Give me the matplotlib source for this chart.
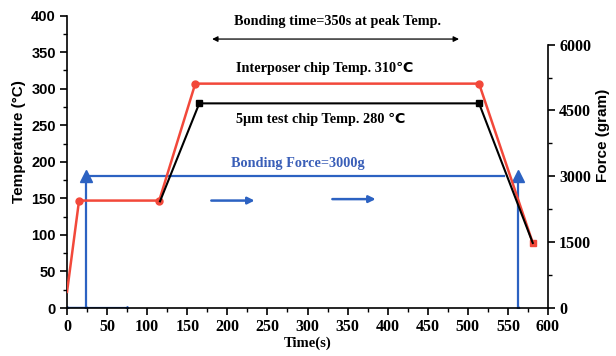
import matplotlib
matplotlib.use("Agg")
import matplotlib.pyplot as plt
from matplotlib.ticker import MultipleLocator

# interposer chip temperature (red)
t_red = [0, 15, 115, 160, 514, 581]
temp_red = [22, 147, 147, 307, 307, 89]
# 5um test chip temperature (black)
t_blk = [116, 165, 514, 581]
temp_blk = [146, 280, 280, 89]
# bonding force (blue, right axis)
t_force = [0, 24, 24, 545]
force = [0, 0, 3000, 3000]
t_release = [562, 562]
force_release = [3000, 0]
t_base = [0, 75]
force_base = [0, 0]

red = '#f2483a'
blue = '#2c62c2'
serif = ['Liberation Serif', 'DejaVu Sans']
sans = ['Liberation Sans', 'DejaVu Sans']

fig = plt.figure(figsize=(6.16, 3.56), dpi=100)
ax = fig.add_axes([0.1088, 0.1348, 0.7808, 0.8212])
ax2 = ax.twinx()

ax.plot(t_red, temp_red, color=red, lw=1.8, zorder=3)
ax.plot(t_red[1:5], temp_red[1:5], 'o', color=red, ms=5, zorder=4)
ax.plot(t_red[-1:], temp_red[-1:], 's', color=red, ms=5, zorder=4)
ax.plot(t_blk, temp_blk, color='black', lw=1.5, zorder=5)
ax.plot(t_blk[1:3], temp_blk[1:3], 's', color='black', ms=5, zorder=6)

ax2.plot(t_force, force, color=blue, lw=1.6, zorder=2)
ax2.plot(t_release, force_release, color=blue, lw=1.6, zorder=2)
ax2.plot([t_force[2], t_release[0]], [force[2], force_release[0]], '^', color=blue, ms=8)
ax2.plot([t_force[0], t_force[1], t_release[1]], [force[0], force[1], force_release[1]],
         '^', color=blue, ms=3)
ax2.plot(t_base, force_base, color=blue, lw=1.6, marker='^', ms=3, markevery=[1])

ax.set_xlim(0, 600)
ax.set_ylim(0, 400)
ax2.set_ylim(0, 6660)
ax.set_zorder(ax2.get_zorder() + 1)
ax.patch.set_visible(False)

for a in (ax, ax2):
    a.spines['top'].set_visible(False)
ax.spines['right'].set_visible(False)
ax2.spines['left'].set_visible(False)
ax2.spines['bottom'].set_visible(False)
ax2.spines['right'].set_bounds(0, 6000)
for s in ('left', 'bottom'):
    ax.spines[s].set_linewidth(1.2)
ax2.spines['right'].set_linewidth(1.2)

ax.xaxis.set_major_locator(MultipleLocator(50))
ax.xaxis.set_minor_locator(MultipleLocator(25))
ax.yaxis.set_major_locator(MultipleLocator(50))
ax.yaxis.set_minor_locator(MultipleLocator(25))
ax2.set_yticks([0, 1500, 3000, 4500, 6000])
ax2.yaxis.set_minor_locator(MultipleLocator(750))

ax.tick_params(which='major', direction='out', length=5, width=1.2, pad=3)
ax.tick_params(which='minor', direction='out', length=3, width=1)
ax2.tick_params(which='major', direction='out', length=5, width=1.2, pad=3)
ax2.tick_params(which='minor', direction='out', length=3, width=1)

for lab in ax.get_xticklabels():
    lab.set_fontfamily(serif)
    lab.set_fontweight('bold')
    lab.set_fontsize(11.5)
for lab in ax.get_yticklabels():
    lab.set_fontfamily(sans)
    lab.set_fontweight('bold')
    lab.set_fontsize(10.5)
for lab in ax2.get_yticklabels():
    lab.set_fontfamily(serif)
    lab.set_fontweight('bold')
    lab.set_fontsize(11.5)

ax.set_xlabel('Time(s)', family=serif, fontweight='bold', fontsize=10.5, labelpad=1)
ax.set_ylabel('Temperature (°C)', family=sans, fontweight='bold', fontsize=11, labelpad=4)
ax.yaxis.set_label_coords(-0.085, 0.57)
ax2.set_ylabel('Force (gram)', family=sans, fontweight='bold', fontsize=11, labelpad=4)
ax2.yaxis.set_label_coords(1.10, 0.59)

# annotations
ax.annotate('', xy=(181, 368), xytext=(489, 368),
            arrowprops=dict(arrowstyle='<|-|>', color='black', lw=0.9,
                            mutation_scale=8, shrinkA=0, shrinkB=0))
ax.text(337, 392, 'Bonding time=350s at peak Temp.', family=serif, fontweight='bold',
        fontsize=10.3, ha='center', va='center')
ax.text(322, 328, 'Interposer chip Temp. 310℃', family=serif, fontweight='bold',
        fontsize=10.3, ha='center', va='center')
ax.text(317, 258, '5μm test chip Temp. 280 ℃', family=serif, fontweight='bold',
        fontsize=10.3, ha='center', va='center')
ax.text(288, 198, 'Bonding Force=3000g', family=serif, fontweight='bold',
        fontsize=10.3, ha='center', va='center', color='#3a5fb8')
for x0, x1, y in [(180, 234, 147), (331, 385, 149)]:
    ax.annotate('', xy=(x1, y), xytext=(x0, y),
                arrowprops=dict(arrowstyle='-|>', color=blue, lw=1.8,
                                mutation_scale=10, shrinkA=0, shrinkB=0))

fig.savefig('out.png', dpi=100)
